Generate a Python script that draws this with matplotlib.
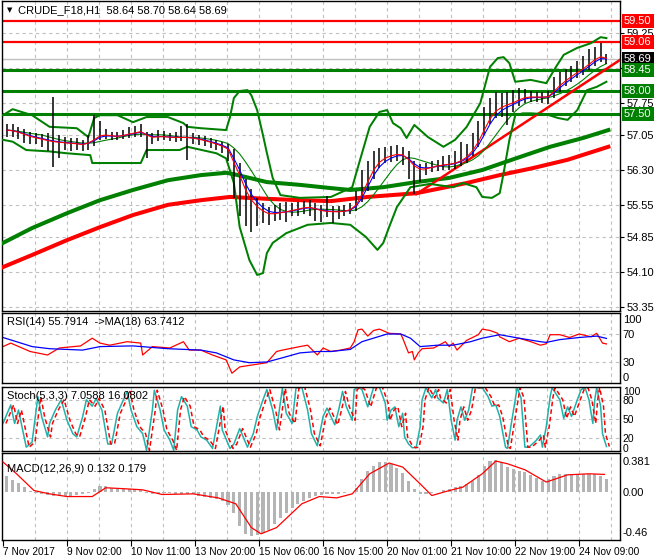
import numpy as np
import pandas as pd
import matplotlib
matplotlib.use("Agg")
import matplotlib.pyplot as plt
from matplotlib.transforms import blended_transform_factory

plt.rcParams['font.family'] = ['Liberation Sans', 'DejaVu Sans']

# ____________________ data ____________________ #

# H1 bars sampled every 3 hours (bar index = hours since 7 Nov 17:00)
bar_high = [57.30, 57.28, 57.22, 57.18, 57.12, 57.10, 57.08, 57.10, 57.87, 57.05,
            57.00, 56.98, 56.98, 56.95, 57.05, 57.48, 57.35, 57.18, 57.12, 57.12,
            57.16, 57.22, 57.25, 57.28, 57.12, 57.10, 57.16, 57.14, 57.10, 57.12,
            57.25, 57.30, 57.10, 57.06, 57.03, 56.98, 56.95, 56.90, 56.85, 56.75,
            56.45, 56.10, 55.90, 55.70, 55.60, 55.50, 55.55, 55.58, 55.62, 55.60,
            55.62, 55.64, 55.66, 55.60, 55.55, 55.75, 55.52, 55.52, 55.55, 55.60,
            55.85, 56.30, 56.50, 56.70, 56.78, 56.80, 56.82, 56.84, 56.80, 56.70,
            56.50, 56.42, 56.45, 56.50, 56.52, 56.60, 56.62, 56.70, 56.90, 56.85,
            57.10, 57.35, 57.65, 57.85, 57.98, 57.95, 57.98, 58.02, 58.06, 58.04,
            58.00, 57.98, 57.98, 58.00, 58.30, 58.40, 58.48, 58.55, 58.65, 58.75,
            58.90, 58.95, 59.03, 58.80]
bar_low = [57.00, 57.02, 56.96, 56.88, 56.85, 56.86, 56.80, 56.70, 56.37, 56.55,
           56.72, 56.70, 56.74, 56.70, 56.72, 56.82, 56.95, 56.96, 56.95, 56.94,
           56.96, 56.99, 57.00, 57.02, 56.55, 56.85, 56.92, 56.94, 56.92, 56.90,
           56.92, 56.52, 56.86, 56.84, 56.82, 56.78, 56.72, 56.66, 56.50, 55.70,
           55.30, 55.10, 54.96, 55.10, 55.15, 55.12, 55.20, 55.22, 55.18, 55.30,
           55.32, 55.35, 55.30, 55.20, 55.18, 55.28, 55.16, 55.25, 55.30, 55.35,
           55.42, 55.62, 55.85, 56.10, 56.35, 56.45, 56.48, 56.50, 56.40, 56.10,
           55.78, 56.05, 56.20, 56.25, 56.28, 56.30, 56.30, 56.32, 56.38, 56.45,
           56.60, 56.80, 57.05, 57.30, 57.42, 57.45, 57.27, 57.55, 57.68, 57.74,
           57.76, 57.76, 57.74, 57.72, 57.85, 57.98, 58.10, 58.20, 58.28, 58.35,
           58.45, 58.55, 58.62, 58.58]
bar_close = [57.16, 57.14, 57.10, 57.05, 57.00, 56.98, 56.95, 56.92, 56.90, 56.89,
             56.88, 56.87, 56.86, 56.84, 56.90, 56.98, 57.08, 57.06, 57.03, 57.02,
             57.05, 57.09, 57.11, 57.14, 57.02, 56.98, 57.02, 57.02, 57.00, 57.00,
             57.00, 57.00, 56.98, 56.95, 56.92, 56.88, 56.84, 56.79, 56.72, 56.32,
             56.05, 55.72, 55.55, 55.44, 55.37, 55.33, 55.36, 55.39, 55.41, 55.44,
             55.47, 55.50, 55.50, 55.45, 55.41, 55.40, 55.40, 55.40, 55.42, 55.46,
             55.60, 55.88, 56.18, 56.42, 56.55, 56.60, 56.63, 56.65, 56.62, 56.48,
             56.32, 56.28, 56.33, 56.37, 56.40, 56.42, 56.43, 56.46, 56.52, 56.62,
             56.78, 57.00, 57.28, 57.52, 57.65, 57.69, 57.73, 57.77, 57.84, 57.88,
             57.88, 57.87, 57.87, 57.88, 58.05, 58.18, 58.27, 58.36, 58.44, 58.52,
             58.62, 58.72, 58.77, 58.69]
bar_idx = np.arange(2, 312, 3)

# Bollinger bands
bb_up_idx = [0, 5, 15, 24, 38, 44, 47, 50, 59, 67, 74, 85, 93, 95, 102, 115, 117, 119,
             122, 126, 128, 131, 134, 136, 139, 143, 153, 169, 180, 183, 189, 194, 198,
             201, 205, 208, 212, 219, 227, 233, 239, 246, 251, 255, 258, 261, 264, 272,
             280, 285, 289, 296, 303, 308, 311]
bb_up_val = [57.48, 57.61, 57.48, 57.23, 57.20, 57.01, 57.42, 57.48, 57.48, 57.33, 57.44,
             57.44, 57.31, 57.23, 57.20, 57.16, 57.44, 57.85, 58.00, 58.02, 57.91, 57.59,
             57.05, 56.67, 56.13, 55.76, 55.70, 55.72, 55.93, 56.37, 57.23, 57.55, 57.59,
             57.31, 57.20, 56.99, 57.27, 57.01, 56.80, 56.95, 57.23, 57.74, 58.52, 58.71,
             58.73, 58.60, 58.20, 58.24, 58.17, 58.52, 58.78, 58.93, 59.03, 59.16, 59.14]
bb_lo_idx = [0, 5, 12, 24, 33, 45, 46, 71, 74, 91, 95, 110, 115, 119, 122, 127, 131, 134,
             136, 139, 146, 157, 169, 179, 187, 193, 196, 199, 203, 210, 220, 232, 237,
             244, 247, 252, 256, 258, 261, 264, 268, 272, 280, 286, 291, 296, 301, 306, 311]
bb_lo_val = [56.95, 56.91, 56.73, 56.70, 56.66, 56.62, 56.45, 56.45, 56.73, 56.73, 56.80,
             56.66, 56.55, 56.02, 55.07, 54.36, 54.04, 54.08, 54.51, 54.73, 54.94, 55.12,
             55.16, 55.12, 54.86, 54.58, 54.73, 55.07, 55.50, 55.93, 56.00, 55.93, 56.02,
             55.93, 55.72, 55.70, 55.80, 56.23, 56.95, 57.48, 57.52, 57.52, 57.50, 57.42,
             57.38, 57.59, 58.02, 58.09, 58.20]

# long moving averages
ma_green_idx = [0, 15, 33, 50, 67, 85, 102, 115, 119, 136, 153, 169, 179, 196, 213, 230,
                247, 265, 282, 299, 312]
ma_green_val = [54.73, 55.05, 55.37, 55.65, 55.87, 56.08, 56.19, 56.24, 56.21, 56.04,
                55.98, 55.91, 55.87, 55.93, 56.04, 56.13, 56.30, 56.56, 56.80, 56.99, 57.16]
ma_red_idx = [0, 15, 33, 50, 67, 85, 102, 117, 136, 153, 169, 188, 213, 239, 256, 273, 291, 312]
ma_red_val = [54.21, 54.47, 54.79, 55.07, 55.33, 55.55, 55.65, 55.72, 55.68, 55.65, 55.63,
              55.72, 55.80, 56.02, 56.19, 56.34, 56.52, 56.80]

trend_idx = [213, 318]
trend_val = [55.78, 58.67]

res_levels = [59.50, 59.06]
sup_levels = [58.45, 58.00, 57.50]
last_price = 58.69

# RSI(14) and its MA(18)
rsi_idx = [0, 4, 14, 23, 29, 40, 46, 50, 55, 64, 71, 72, 77, 86, 93, 96, 102, 108, 115, 118,
           122, 129, 136, 141, 144, 153, 157, 162, 165, 169, 174, 179, 181, 183, 185, 188,
           191, 194, 199, 205, 206, 209, 211, 212, 214, 216, 222, 228, 230, 232, 234, 239,
           245, 247, 251, 255, 256, 261, 266, 272, 277, 280, 282, 287, 292, 297, 303, 306,
           309, 311]
rsi_val = [52, 57, 45, 40, 50, 53, 64, 57, 54, 59, 57, 40, 52, 50, 59, 47, 47, 40, 33, 14,
           23, 26, 29, 45, 47, 52, 54, 40, 50, 45, 47, 50, 59, 76, 77, 67, 75, 77, 71, 70,
           64, 43, 45, 33, 43, 49, 50, 59, 52, 57, 47, 61, 69, 77, 75, 71, 66, 59, 64, 59,
           54, 56, 69, 69, 65, 70, 66, 71, 57, 55.8]
rsi_ma_idx = [0, 7, 15, 24, 41, 50, 67, 85, 102, 110, 119, 127, 136, 144, 153, 162, 169, 179,
              185, 198, 205, 210, 215, 224, 232, 241, 247, 256, 266, 277, 280, 287, 297, 306, 311]
rsi_ma_val = [65, 59, 52, 49, 47, 52, 53, 49, 47, 43, 33, 29, 30, 36, 43, 45, 45, 48, 59, 70,
              70, 64, 52, 54, 54, 59, 64, 69, 64, 59, 58, 62, 65, 67, 63.7]

# Stochastic(5,3,3) main line
sto_idx = [0, 4, 6, 8, 12, 15, 18, 20, 23, 24, 27, 30, 33, 36, 38, 41, 43, 46, 48, 51, 54,
           56, 59, 64, 66, 69, 72, 74, 77, 78, 81, 83, 86, 88, 90, 92, 95, 97, 100, 102, 105,
           108, 112, 113, 117, 119, 122, 126, 129, 131, 134, 136, 139, 141, 144, 146, 149,
           151, 154, 157, 159, 162, 165, 167, 169, 171, 173, 175, 177, 180, 181, 183, 185,
           188, 191, 194, 197, 198, 200, 202, 204, 206, 207, 209, 211, 213, 215, 216, 218,
           221, 223, 224, 227, 229, 231, 233, 234, 236, 238, 240, 242, 247, 250, 252, 254,
           256, 259, 260, 262, 265, 267, 269, 271, 275, 277, 278, 280, 282, 283, 287, 289,
           291, 293, 296, 298, 300, 302, 304, 305, 306, 308, 309, 311]
sto_val = [43, 72, 43, 64, 6, 14, 85, 53, 22, 43, 64, 80, 48, 27, 22, 53, 80, 70, 82, 64, 11,
           11, 59, 93, 64, 38, 27, 1, 64, 95, 64, 33, 17, 1, 64, 85, 70, 38, 33, 22, 17,
           4, 70, 33, 4, 11, 35, 6, 27, 53, 80, 96, 64, 33, 98, 59, 43,
           98, 100, 64, 27, 8, 54, 67, 54, 41, 64, 93, 69, 48, 96, 100, 96,
           69, 99, 100, 75, 48, 64, 69, 38, 59, 22, 11, 5, 6, 38, 80, 99,
           83, 96, 83, 75, 96, 48, 17, 48, 69, 48, 64, 99, 99, 85, 70, 72,
           54, 6, 4, 43, 99, 83, 6, 6, 17, 25, 6, 38, 85, 99, 80, 51,
           69, 54, 80, 96, 99, 80, 43, 80, 99, 70, 27, 7.06]

# MACD(12,26,9): histogram every 3 hours, signal line points
macd_hist = [0.16, 0.12, 0.09, 0.05, 0.015, -0.01, -0.02, -0.025, -0.03, -0.03,
             -0.03, -0.03, -0.025, -0.02, -0.01, 0.03, 0.065, 0.06, 0.045, 0.035,
             0.03, 0.03, 0.035, 0.02, -0.01, -0.02, -0.015, -0.01, -0.01, -0.012,
             -0.015, -0.015, -0.02, -0.03, -0.04, -0.05, -0.06, -0.08, -0.12, -0.20,
             -0.32, -0.40, -0.42, -0.41, -0.39, -0.36, -0.31, -0.25, -0.20, -0.15,
             -0.11, -0.08, -0.05, -0.035, -0.025, -0.02, -0.02, -0.015, -0.01, 0.0,
             0.04, 0.13, 0.21, 0.26, 0.29, 0.29, 0.275, 0.24, 0.19, 0.11,
             0.03, -0.02, -0.02, -0.01, 0.0, 0.02, 0.035, 0.05, 0.065, 0.085,
             0.11, 0.17, 0.26, 0.30, 0.31, 0.29, 0.25, 0.23, 0.21, 0.195,
             0.17, 0.14, 0.115, 0.13, 0.16, 0.175, 0.18, 0.18, 0.18, 0.18,
             0.18, 0.175, 0.16, 0.132]
macd_sig_idx = [0, 7, 16, 24, 33, 46, 53, 63, 72, 82, 98, 111, 120, 128, 133, 141, 154, 163,
                172, 180, 189, 199, 206, 215, 221, 230, 237, 247, 254, 260, 269, 280, 291, 302, 310]
macd_sig_val = [0.294, 0.18, 0.018, -0.014, -0.04, -0.04, 0.045, 0.035, 0.025, -0.02, -0.014,
                -0.053, -0.11, -0.34, -0.40, -0.34, -0.11, -0.04, -0.053, -0.014, 0.18, 0.284,
                0.245, 0.083, -0.03, 0.018, 0.051, 0.18, 0.303, 0.277, 0.219, 0.10, 0.17, 0.18, 0.174]

time_tick_idx = [0, 33, 66, 99, 132, 165, 198, 231, 264, 297]
time_tick_lbl = ['7 Nov 2017', '9 Nov 02:00', '10 Nov 11:00', '13 Nov 20:00', '15 Nov 06:00',
                 '16 Nov 15:00', '20 Nov 01:00', '21 Nov 10:00', '22 Nov 19:00', '24 Nov 09:00']
price_ticks = [53.35, 54.10, 54.85, 55.55, 56.30, 57.05, 57.75, 58.50, 59.25]
price_tick_lbl = ['53.35', '54.10', '54.85', '55.55', '56.30', '57.05', '57.75', '', '59.25']

# ____________________ layout ____________________ #

W, H = 660, 560
GREEN, RED, BLUE, TEAL, GRID = '#008000', '#ff0000', '#0000ff', '#20b2aa', '#c0c0c0'
FS = 8

fig = plt.figure(figsize=(W / 100, H / 100), dpi=100)


def panel(top, bottom, left=2, right=620):
    ax = fig.add_axes([left / W, 1 - bottom / H, (right - left) / W, (bottom - top) / H])
    ax.set_xlim(-0.5, 318)
    for s in ax.spines.values():
        s.set_color('black')
        s.set_linewidth(1.0)
    for gx in np.arange(16.5, 318, 16.5):
        ax.axvline(gx, color=GRID, lw=0.8, ls=(0, (3, 3)), zorder=0)
    ax.yaxis.tick_right()
    ax.tick_params(axis='y', direction='out', length=3, pad=2, labelsize=FS, colors='black')
    ax.set_xticks([])
    return ax


ax_main = panel(1, 311)
ax_rsi = panel(313, 383)
ax_sto = panel(387, 451)
ax_macd = panel(453, 540)

# ____________________ main price panel ____________________ #

ax_main.set_ylim(53.264, 59.939)
for gy in price_ticks:
    ax_main.axhline(gy, color=GRID, lw=0.8, ls=(0, (3, 3)), zorder=0)
ax_main.set_yticks(price_ticks)
ax_main.set_yticklabels(price_tick_lbl)

ax_main.axhline(last_price, color=GRID, lw=1.0, zorder=1)
for lv in res_levels:
    ax_main.axhline(lv, color=RED, lw=1.6, zorder=2)
for lv in sup_levels:
    ax_main.axhline(lv, color=GREEN, lw=2.2, zorder=2)

ax_main.plot(ma_green_idx, ma_green_val, color=GREEN, lw=2.9, zorder=3)
ax_main.plot(ma_red_idx, ma_red_val, color=RED, lw=2.9, zorder=3)
ax_main.plot(trend_idx, trend_val, color=RED, lw=1.8, zorder=3)

ax_main.plot(bb_up_idx, bb_up_val, color=GREEN, lw=1.45, zorder=4)
ax_main.plot(bb_lo_idx, bb_lo_val, color=GREEN, lw=1.45, zorder=4)

close = pd.Series(bar_close)
ax_main.plot(bar_idx, close.rolling(7, min_periods=1).mean(), color=GREEN, lw=0.8, zorder=4)
ax_main.vlines(bar_idx, bar_low, bar_high, color='black', lw=1.1, zorder=5)
ax_main.plot(bar_idx, close.ewm(span=3).mean(), color=BLUE, lw=0.8, zorder=6)
ax_main.plot(bar_idx, close.ewm(span=2).mean(), color=RED, lw=0.8, zorder=6)

tr = blended_transform_factory(ax_main.transAxes, ax_main.transData)
boxes = [(59.50, RED), (59.06, RED), (last_price, 'black'),
         (58.45, GREEN), (58.00, GREEN), (57.50, GREEN)]
for val, col in boxes:
    ax_main.text(1.0 + 4 / 618, val, f'{val:.2f}', transform=tr, ha='left', va='center',
                 fontsize=FS, color='white', zorder=10,
                 bbox=dict(boxstyle='square,pad=0.18', fc=col, ec='none'))

fig.text(7 / W, 1 - 10 / H, '\u25bc', fontsize=5, va='center', ha='left', color='black',
         family='DejaVu Sans')
fig.text(18 / W, 1 - 10 / H, 'CRUDE_F18,H1  58.64 58.70 58.64 58.69', fontsize=FS,
         va='center', ha='left', color='black')

# ____________________ RSI ____________________ #

ax_rsi.set_ylim(0, 100)
for gy in (70, 30):
    ax_rsi.axhline(gy, color=GRID, lw=0.8, ls=(0, (3, 3)), zorder=0)
ax_rsi.plot(rsi_idx, rsi_val, color=RED, lw=0.9)
ax_rsi.plot(rsi_ma_idx, rsi_ma_val, color=BLUE, lw=0.9)
ax_rsi.set_yticks([92, 70, 30, 8])
ax_rsi.set_yticklabels(['100', '70', '30', '0'])
ax_rsi.tick_params(axis='y', length=0)
fig.text(7 / W, 1 - 322 / H, 'RSI(14) 55.7914  ->MA(18) 63.7412', fontsize=FS,
         va='center', ha='left', color='black')

# ____________________ Stochastic ____________________ #

ax_sto.set_ylim(0, 100)
for gy in (80, 50, 20):
    ax_sto.axhline(gy, color=GRID, lw=0.8, ls=(0, (3, 3)), zorder=0)
ax_sto.plot(sto_idx, sto_val, color=TEAL, lw=1.1)
ax_sto.plot(np.array(sto_idx) + 1.5, sto_val, color=RED, lw=1.1, ls=(0, (3, 2)))
ax_sto.set_yticks([94, 80, 50, 20, 5])
ax_sto.set_yticklabels(['100', '80', '50', '20', '0'])
ax_sto.tick_params(axis='y', length=0, labelsize=7.5)
fig.text(7 / W, 1 - 396 / H, 'Stoch(5,3,3) 7.0588 16.0802', fontsize=FS,
         va='center', ha='left', color='black')

# ____________________ MACD ____________________ #

ax_macd.set_ylim(-0.46, 0.381)
ax_macd.bar(bar_idx, macd_hist, width=1.6, color='#b4b4b4', zorder=2)
ax_macd.plot(macd_sig_idx, macd_sig_val, color=RED, lw=0.9, zorder=3)
ax_macd.set_yticks([0.30, 0.0, -0.38])
ax_macd.set_yticklabels(['0.381', '0.00', '-0.46'])
ax_macd.tick_params(axis='y', length=0)
fig.text(7 / W, 1 - 469 / H, 'MACD(12,26,9) 0.132 0.179', fontsize=FS,
         va='center', ha='left', color='black')

ax_macd.set_xticks(time_tick_idx)
ax_macd.set_xticklabels(time_tick_lbl, ha='left', fontsize=7.3)
ax_macd.tick_params(axis='x', direction='out', length=4, pad=1, colors='black')

fig.savefig('out.png', dpi=100)
